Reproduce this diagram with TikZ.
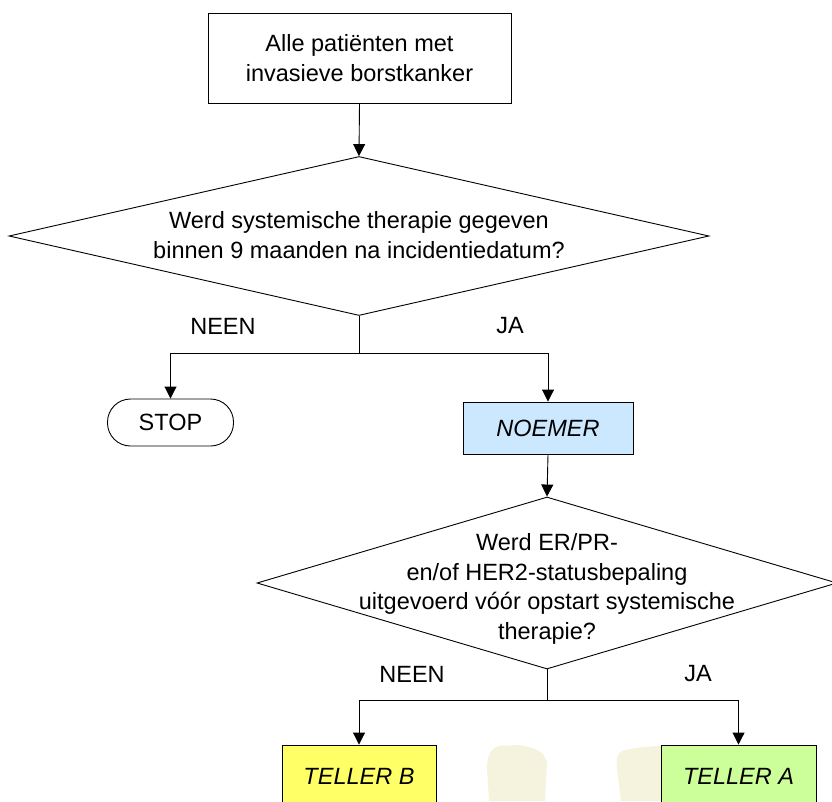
\documentclass[tikz,border=0pt]{standalone}
\usepackage{fontspec}
\setmainfont{Liberation Sans}
\usetikzlibrary{shapes.geometric,arrows.meta}

\definecolor{noemerblue}{RGB}{204,232,255}
\definecolor{tellerb}{RGB}{255,255,102}
\definecolor{tellera}{RGB}{204,255,153}
\definecolor{ghost}{RGB}{245,243,222}

\tikzset{
  base/.style={font=\fontsize{23.5}{29.5}\selectfont, align=center, inner sep=0pt},
  procbox/.style={base, draw=black, line width=0.9pt, rectangle},
  termbox/.style={base, draw=black, line width=0.9pt, rectangle, rounded corners=23pt},
  decision/.style={draw=black, line width=0.9pt, diamond, inner sep=0pt},
  conn/.style={draw=black, line width=0.9pt},
  arr/.style={conn, -{Triangle[length=12pt,width=12pt]}},
  lbl/.style={base},
  ital/.style={font=\fontsize{23.5}{29.5}\selectfont\itshape}
}

\begin{document}
\begin{tikzpicture}[x=1pt, y=-1pt]
  \clip (0,0) rectangle (832,801);
  \fill[white] (0,0) rectangle (832,801);

  % faint background marks near the bottom edge
  \fill[ghost] (489,801) -- (487,768) .. controls (487,758) and (490,750) .. (496,747)
     .. controls (502,744) and (508,747) .. (514,745)
     .. controls (524,745) and (536,748) .. (543,754)
     -- (547,762) -- (545,801) -- cycle;
  \fill[ghost] (621,801) -- (617,768) .. controls (616,760) and (617,753) .. (622,751)
     .. controls (632,748) and (648,746) .. (665,746) -- (665,801) -- cycle;

  % process and decision nodes
  \node[procbox, minimum width=303pt, minimum height=90pt] (start) at (359.5,58)
    {Alle patiënten met\\invasieve borstkanker};

  \node[decision, minimum width=700pt, minimum height=159pt] (q1) at (359,236) {};
  \node[base] (q1text) at (359,235)
    {Werd systemische therapie gegeven\\binnen 9 maanden na incidentiedatum?};

  \node[termbox, minimum width=126pt, minimum height=47pt] (stop) at (170.5,422.5) {STOP};

  \node[procbox, ital, fill=noemerblue, minimum width=170pt, minimum height=52pt]
    (noemer) at (548,428) {NOEMER};

  \node[decision, minimum width=580pt, minimum height=172pt] (q2) at (547,583) {};
  \node[base] (q2text) at (547,589)
    {Werd ER/PR-\\en/of HER2-statusbepaling\\uitgevoerd vóór opstart systemische\\therapie?};

  \node[procbox, ital, fill=tellerb, minimum width=154pt, minimum height=62pt]
    (tb) at (359,776) {TELLER B};
  \node[procbox, ital, fill=tellera, minimum width=155pt, minimum height=62pt]
    (ta) at (738.5,776) {TELLER A};

  % branch points
  \coordinate (j1) at (359,353);
  \coordinate (j2) at (547,700);

  % connectors
  \draw[arr] (start.south) -- (q1.north);
  \draw[conn] (q1.south) -- (j1);
  \draw[arr] (j1) -| (stop.north);
  \draw[arr] (j1) -| (noemer.north);
  \draw[arr] (noemer.south) -- (q2.north);
  \draw[conn] (q2.south) -- (j2);
  \draw[arr] (j2) -| (tb.north);
  \draw[arr] (j2) -| (ta.north);

  % branch labels
  \node[lbl] (n1) at (223,326) {NEEN};
  \node[lbl] (y1) at (510,326) {JA};
  \node[lbl] (n2) at (412,674) {NEEN};
  \node[lbl] (y2) at (698,674) {JA};
\end{tikzpicture}
\end{document}
